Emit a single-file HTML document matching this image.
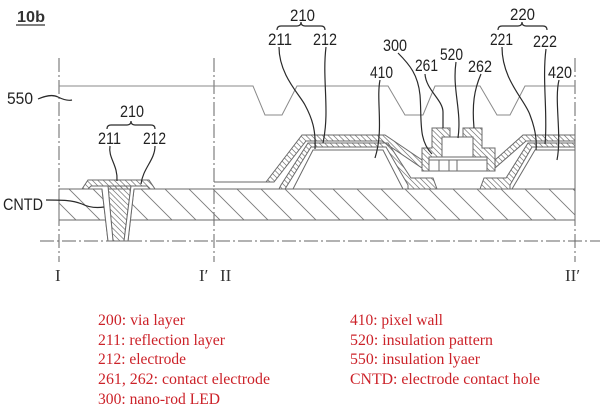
<!DOCTYPE html>
<html>
<head>
<meta charset="utf-8">
<style>
  html, body { margin: 0; padding: 0; background: #ffffff; }
  body { width: 600px; height: 419px; overflow: hidden; }
  svg { display: block; }
  .lbl { font-family: "Liberation Sans", "DejaVu Sans", sans-serif; font-size: 17px; fill: #222; }
  .sec { font-family: "Liberation Serif", "DejaVu Serif", serif; font-size: 17px; fill: #333; }
  .leg { font-family: "Liberation Serif", "DejaVu Serif", serif; font-size: 15.5px; fill: #cc2229; }
  .ol { fill: none; stroke: #6a6a6a; stroke-width: 1; }
  .ld { fill: none; stroke: #2a2a2a; stroke-width: 1.2; }
  .dd { fill: none; stroke: #666; stroke-width: 1; stroke-dasharray: 14 3 2 3; }
</style>
</head>
<body>
<svg width="600" height="419" viewBox="0 0 600 419" xmlns="http://www.w3.org/2000/svg">
  <defs>
    <pattern id="hb" patternUnits="userSpaceOnUse" width="24" height="24">
      <path d="M-6,-6 L30,30 M-6,18 L6,30 M18,-6 L30,6" stroke="#7a7a7a" stroke-width="0.9" fill="none"/>
    </pattern>
    <pattern id="hf" patternUnits="userSpaceOnUse" width="5.5" height="5.5">
      <path d="M-1,-1 L6.5,6.5 M-1,4.5 L1,6.5 M4.5,-1 L6.5,1" stroke="#7a7a7a" stroke-width="0.75" fill="none"/>
    </pattern>
  </defs>

  <!-- title -->
  <text x="17" y="22" font-family="Liberation Sans, sans-serif" font-size="16" font-weight="bold" fill="#333" textLength="28" lengthAdjust="spacingAndGlyphs">10b</text>
  <line x1="16" y1="25" x2="45" y2="25" stroke="#333" stroke-width="1.3"/>

  <!-- dash-dot section lines -->
  <line class="dd" x1="59" y1="58" x2="59" y2="262"/>
  <line class="dd" x1="214" y1="58" x2="214" y2="262"/>
  <line class="dd" x1="575" y1="58" x2="575" y2="262"/>
  <line class="dd" x1="40" y1="241" x2="600" y2="241"/>

  <!-- 550 insulation layer top line -->
  <polyline fill="none" stroke="#8a8a8a" stroke-width="1" points="59,86 253,86 265,115 282,115 297,86 388,86 405,115 423,115 435,86 480,86 497,115 510,115 525,86 575,86"/>

  <!-- via layer 200 -->
  <polygon points="59,189 102,189 106,220 59,220" fill="url(#hb)" stroke="#6a6a6a" stroke-width="1"/>
  <polygon points="133,189 575,189 575,220 130,220" fill="url(#hb)" stroke="#6a6a6a" stroke-width="1"/>

  <!-- left contact hole -->
  <line class="ol" x1="102" y1="189" x2="108" y2="241"/>
  <line class="ol" x1="134" y1="189" x2="128" y2="241"/>
  <polygon points="82,189 88,180 149,180 155,189" fill="url(#hf)" stroke="#6a6a6a" stroke-width="1"/>
  <polygon points="108,186 131,186 124,241 113,241" fill="url(#hf)" stroke="#6a6a6a" stroke-width="1"/>
  <polygon points="88,189 91,186 108,186 113,241 108,241 102,189" fill="#fff" stroke="#6a6a6a" stroke-width="1"/>
  <polygon points="131,186 147,186 150,189 134,189 128,241 124,241" fill="#fff" stroke="#6a6a6a" stroke-width="1"/>

  <!-- right section base line -->
  <line class="ol" x1="214" y1="182" x2="268" y2="182"/>

  <!-- island 410 -->
  <polygon points="279,189 281,185 308,143 388,143 411,178 433,178 437,189" fill="url(#hf)" stroke="#6a6a6a" stroke-width="1"/>
  <polygon points="285,189 311,147 386,147 408,185 408,189" fill="#fff" stroke="#6a6a6a" stroke-width="1"/>
  <polygon points="293,189 313,150 383,150 403,189" fill="#fff" stroke="#6a6a6a" stroke-width="1"/>
  <polygon points="266,182 302,135 385,135 422,160 422,168 382,141 306,141 274,182" fill="url(#hf)" stroke="#6a6a6a" stroke-width="1"/>

  <!-- island 420 -->
  <polygon points="480,189 484,178 506,178 528,143 575,143 575,189" fill="url(#hf)" stroke="#6a6a6a" stroke-width="1"/>
  <polygon points="510,189 510,185 532,147 575,147 575,189" fill="#fff" stroke="#6a6a6a" stroke-width="1"/>
  <polygon points="512,189 535,150 575,150 575,189" fill="#fff" stroke="#6a6a6a" stroke-width="1"/>
  <polygon points="495,160 523,135 575,135 575,141 526,141 495,168" fill="url(#hf)" stroke="#6a6a6a" stroke-width="1"/>

  <!-- LED 300 -->
  <rect x="429" y="157" width="58" height="14" fill="#fff" stroke="#6a6a6a" stroke-width="1"/>
  <line class="ol" x1="429" y1="160" x2="487" y2="160"/>
  <line class="ol" x1="439" y1="160" x2="439" y2="171"/>
  <line class="ol" x1="449" y1="160" x2="449" y2="171"/>
  <line class="ol" x1="457" y1="160" x2="457" y2="171"/>
  <!-- 520 -->
  <rect x="442" y="137" width="31" height="20" fill="#fff" stroke="#6a6a6a" stroke-width="1"/>
  <!-- 261 / 262 -->
  <polygon points="432,128 450,128 450,137 442,137 442,157 429,157 429,171 422,171 422,148 432,148" fill="url(#hf)" stroke="#6a6a6a" stroke-width="1"/>
  <polygon points="463,128 482,128 482,148 495,148 495,171 487,171 487,157 473,157 473,137 463,137" fill="url(#hf)" stroke="#6a6a6a" stroke-width="1"/>

  <!-- braces -->
  <path class="ld" d="M107,129 Q107,125 111,125 L127,125 Q131,125 131,121 Q131,125 135,125 L151,125 Q155,125 155,129"/>
  <path class="ld" d="M277,30 Q277,26 281,26 L297,26 Q301,26 301,22 Q301,26 305,26 L321,26 Q325,26 325,30"/>
  <path class="ld" d="M498,30 Q498,26 502,26 L518,26 Q522,26 522,22 Q522,26 526,26 L543,26 Q547,26 547,30"/>

  <!-- leader lines -->
  <path class="ld" d="M38,99 C45,96 52,94 58,97 S68,101 72,100"/>
  <path class="ld" d="M110,146 C108,158 118,165 117,181"/>
  <path class="ld" d="M155,146 C155,160 143,168 141,184"/>
  <path class="ld" d="M46,200 C62,200 72,200 82,204 C90,208 97,208 104,207"/>
  <path class="ld" d="M279,47 C279,75 300,95 305,105 C312,118 316,130 315,149"/>
  <path class="ld" d="M326,47 C322,80 330,110 323,143"/>
  <path class="ld" d="M380,80 C376,100 384,130 375,158"/>
  <path class="ld" d="M398,53 C410,65 418,75 420,95 C422,120 418,140 432,154"/>
  <path class="ld" d="M425,74 C426,90 443,100 443,112 L443,128"/>
  <path class="ld" d="M456,62 C452,90 462,110 458,138"/>
  <path class="ld" d="M481,74 C474,90 472,105 474,128"/>
  <path class="ld" d="M502,47 C502,80 525,100 530,115 C535,128 537,140 536,150"/>
  <path class="ld" d="M546,49 C542,80 548,115 545,144"/>
  <path class="ld" d="M559,80 C554,100 562,135 557,160"/>

  <!-- labels -->
  <text class="lbl" x="7" y="104" textLength="26" lengthAdjust="spacingAndGlyphs">550</text>
  <text class="lbl" x="120" y="117" textLength="24" lengthAdjust="spacingAndGlyphs">210</text>
  <text class="lbl" x="98" y="144" textLength="23" lengthAdjust="spacingAndGlyphs">211</text>
  <text class="lbl" x="143" y="144" textLength="23" lengthAdjust="spacingAndGlyphs">212</text>
  <text class="lbl" x="3" y="210" textLength="40" lengthAdjust="spacingAndGlyphs">CNTD</text>

  <text class="lbl" x="290" y="21" textLength="25" lengthAdjust="spacingAndGlyphs">210</text>
  <text class="lbl" x="268" y="45" textLength="24" lengthAdjust="spacingAndGlyphs">211</text>
  <text class="lbl" x="313" y="45" textLength="24" lengthAdjust="spacingAndGlyphs">212</text>
  <text class="lbl" x="370" y="78" textLength="23" lengthAdjust="spacingAndGlyphs">410</text>
  <text class="lbl" x="383" y="51" textLength="24" lengthAdjust="spacingAndGlyphs">300</text>
  <text class="lbl" x="415" y="71" textLength="23" lengthAdjust="spacingAndGlyphs">261</text>
  <text class="lbl" x="440" y="60" textLength="23" lengthAdjust="spacingAndGlyphs">520</text>
  <text class="lbl" x="468" y="72" textLength="24" lengthAdjust="spacingAndGlyphs">262</text>
  <text class="lbl" x="510" y="20" textLength="25" lengthAdjust="spacingAndGlyphs">220</text>
  <text class="lbl" x="490" y="45" textLength="23" lengthAdjust="spacingAndGlyphs">221</text>
  <text class="lbl" x="533" y="47" textLength="24" lengthAdjust="spacingAndGlyphs">222</text>
  <text class="lbl" x="548" y="78" textLength="24" lengthAdjust="spacingAndGlyphs">420</text>

  <!-- section labels -->
  <text class="sec" x="55" y="281">I</text>
  <text class="sec" x="199" y="281">I′</text>
  <text class="sec" x="220" y="281">II</text>
  <text class="sec" x="565" y="281">II′</text>

  <!-- legend -->
  <text class="leg" x="98" y="325" textLength="87" lengthAdjust="spacingAndGlyphs">200: via layer</text>
  <text class="leg" x="98" y="345" textLength="127" lengthAdjust="spacingAndGlyphs">211: reflection layer</text>
  <text class="leg" x="98" y="364" textLength="88" lengthAdjust="spacingAndGlyphs">212: electrode</text>
  <text class="leg" x="98" y="384" textLength="172" lengthAdjust="spacingAndGlyphs">261, 262: contact electrode</text>
  <text class="leg" x="98" y="404" textLength="122" lengthAdjust="spacingAndGlyphs">300: nano-rod LED</text>

  <text class="leg" x="350" y="325" textLength="93" lengthAdjust="spacingAndGlyphs">410: pixel wall</text>
  <text class="leg" x="350" y="345" textLength="143" lengthAdjust="spacingAndGlyphs">520: insulation pattern</text>
  <text class="leg" x="350" y="364" textLength="130" lengthAdjust="spacingAndGlyphs">550: insulation lyaer</text>
  <text class="leg" x="350" y="384" textLength="190" lengthAdjust="spacingAndGlyphs">CNTD: electrode contact hole</text>
</svg>
</body>
</html>
